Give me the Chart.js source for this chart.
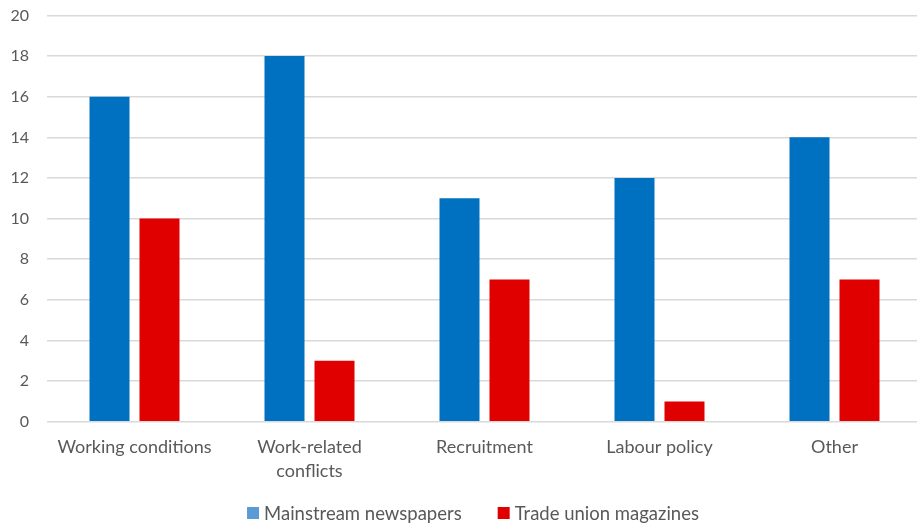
<!DOCTYPE html>
<html>
<head>
<meta charset="utf-8">
<script src="https://cdn.jsdelivr.net/npm/chart.js@4"></script>
<style>
  html, body { margin: 0; padding: 0; background: #fff; overflow: hidden; }
  /* plot runs a few pixels past the right edge of the window */
  #wrap { width: 922px; height: 524px; }
</style>
</head>
<body>
<div id="wrap"><canvas id="chart"></canvas></div>
<script>
// topics and article counts
const categories = ["Working conditions", ["Work-related", "conflicts"], "Recruitment", "Labour policy", "Other"];
const mainstream = [16, 18, 11, 12, 14];
const tradeUnion = [10, 3, 7, 1, 7];
const seriesNames = ["Mainstream newspapers", "Trade union magazines"];
const legendColors = ["#5B9BD5", "#E00000"];

const BLUE = "#0070C0";
const RED = "#E00000";
const TEXT = "#595959";
const FONT = "Lato, 'Noto Sans', sans-serif";

Chart.defaults.font.family = FONT;
Chart.defaults.color = TEXT;

// simple bottom legend: square swatch, small gap, wide gap between entries
const bottomLegend = {
  id: "bottomLegend",
  afterDraw(chart) {
    const ctx = chart.ctx;
    const box = 12, textGap = 5, itemGap = 36, cy = 513, cx = 473;
    ctx.save();
    ctx.font = "18.5px " + FONT;
    ctx.textBaseline = "middle";
    ctx.textAlign = "left";
    const widths = seriesNames.map(n => box + textGap + ctx.measureText(n).width);
    const total = widths.reduce((a, b) => a + b, 0) + itemGap * (widths.length - 1);
    let x = cx - total / 2;
    seriesNames.forEach((name, i) => {
      ctx.fillStyle = legendColors[i];
      ctx.fillRect(x, cy - box / 2, box, box);
      ctx.fillStyle = TEXT;
      ctx.fillText(name, x + box + textGap, cy + 1);
      x += widths[i] + itemGap;
    });
    ctx.restore();
  }
};

new Chart(document.getElementById("chart"), {
  type: "bar",
  data: {
    labels: categories,
    datasets: [
      { label: seriesNames[0], data: mainstream, backgroundColor: BLUE },
      { label: seriesNames[1], data: tradeUnion, backgroundColor: RED }
    ]
  },
  plugins: [bottomLegend],
  options: {
    responsive: true,
    maintainAspectRatio: false,
    animation: false,
    categoryPercentage: 0.5714,
    barPercentage: 0.8,
    layout: { padding: { top: 0, right: 0, left: 0, bottom: 27.5 } },
    plugins: {
      tooltip: { enabled: false },
      legend: { display: false }
    },
    scales: {
      x: {
        grid: { display: false, drawTicks: false },
        border: { display: false },
        ticks: { padding: 14, font: { size: 18, lineHeight: 1.3 }, color: TEXT, maxRotation: 0 }
      },
      y: {
        min: 0,
        max: 20,
        grid: { color: "#D9D9D9", lineWidth: 1.5, drawTicks: false },
        border: { display: false },
        ticks: { stepSize: 2, padding: 18, font: { size: 16 }, color: TEXT },
        afterFit(scale) {
          scale.width = 47;
          scale.paddingTop = 15.5;
          scale.paddingBottom = 0;
        }
      }
    }
  }
});
</script>
</body>
</html>
